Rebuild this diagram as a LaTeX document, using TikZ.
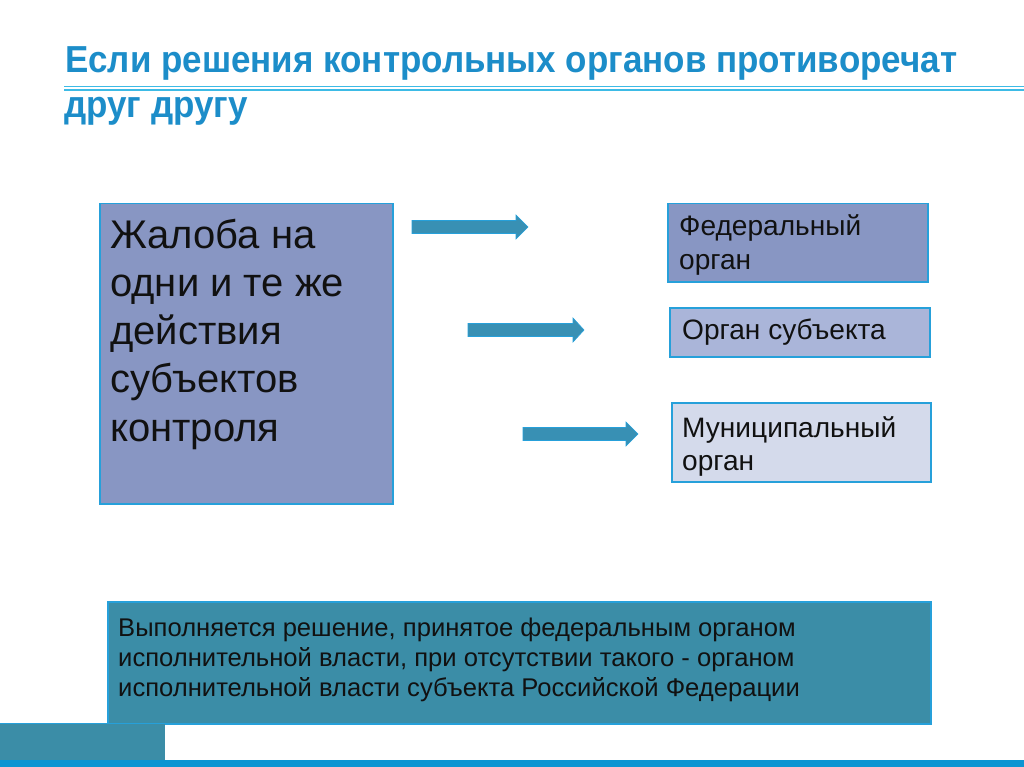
\documentclass[tikz,border=0pt]{standalone}
\usepackage{fontspec}
\setmainfont{Liberation Sans}
\newfontfamily\titlefont{Liberation Sans}[FakeStretch=0.93]
\definecolor{titleblue}{HTML}{1C8DC9}
\definecolor{lineblue}{HTML}{3DBBE6}
\definecolor{boxline}{HTML}{26A0DA}
\definecolor{fedfill}{HTML}{8896C3}
\definecolor{subjfill}{HTML}{AAB5D9}
\definecolor{munifill}{HTML}{D4DAEB}
\definecolor{tealfill}{HTML}{3B8DA7}
\definecolor{barblue}{HTML}{0B95D2}
\definecolor{arrowfill}{HTML}{3890B4}
\definecolor{textdark}{HTML}{111111}
\newcommand\flatarrow[4]{\draw[arrowshape] (#1,#4-6.5) -- (#2,#4-6.5) -- (#2,#4-12) -- (#3,#4) -- (#2,#4+12) -- (#2,#4+6.5) -- (#1,#4+6.5) -- cycle;}
\begin{document}
\begin{tikzpicture}[x=1pt,y=-1pt,
  box/.style={draw=boxline, line width=1.5pt, inner sep=0pt, anchor=north west},
  boxtext/.style={anchor=base west, inner sep=0pt, align=left, text=textdark},
  arrowshape/.style={fill=arrowfill, draw=boxline, line width=0.6pt, line join=miter},
  titletext/.style={anchor=base west, inner sep=0pt, text=titleblue, font=\titlefont\bfseries\fontsize{37.6}{37.6}\selectfont}]
\useasboundingbox (0,0) rectangle (1024,767);
\fill[white] (0,0) rectangle (1024,767);
% title
\node[titletext] (t1) at (65,73) {Если решения контрольных органов противоречат};
\node[titletext] (t2) at (64,118) {друг другу};
\draw[lineblue, line width=1.4pt] (64,86.7) -- (1024,86.7);
\draw[lineblue, line width=1.4pt] (64,90) -- (1024,90);
% left box
\node[box, fill=fedfill, minimum width=293pt, minimum height=300pt] (compl) at (99,203) {};
\node[boxtext, font=\fontsize{40}{48.3}\selectfont] (compltext) at (110,441.2)
  {Жалоба на\\одни и те же\\действия\\субъектов\\контроля};
% right boxes
\node[box, fill=fedfill, minimum width=260pt, minimum height=78pt] (fed) at (667,203) {};
\node[boxtext, font=\fontsize{28.1}{33}\selectfont] (fedtext) at (679,269) {Федеральный\\орган};
\node[box, fill=subjfill, minimum width=260pt, minimum height=49pt] (subj) at (669,307) {};
\node[boxtext, font=\fontsize{28.1}{33}\selectfont] (subjtext) at (682,339) {Орган субъекта};
\node[box, fill=munifill, minimum width=259pt, minimum height=79pt] (muni) at (671,402) {};
\node[boxtext, font=\fontsize{28.1}{33}\selectfont] (munitext) at (682,470) {Муниципальный\\орган};
% arrows
\flatarrow{412}{516}{528}{227}
\flatarrow{468}{573}{584}{330}
\flatarrow{523}{626}{638}{434}
% bottom box
\node[box, fill=tealfill, minimum width=823pt, minimum height=122pt] (result) at (107,601) {};
\node[boxtext, font=\fontsize{25.6}{30}\selectfont] (resulttext) at (118,696)
  {Выполняется решение, принятое федеральным органом\\исполнительной власти, при отсутствии такого - органом\\исполнительной власти субъекта Российской Федерации};
% footer
\fill[tealfill] (0,723) rectangle (165,760);
\draw[boxline, line width=1pt] (0,723) -- (165,723);
\fill[barblue] (0,760) rectangle (1024,767);
\end{tikzpicture}
\end{document}
